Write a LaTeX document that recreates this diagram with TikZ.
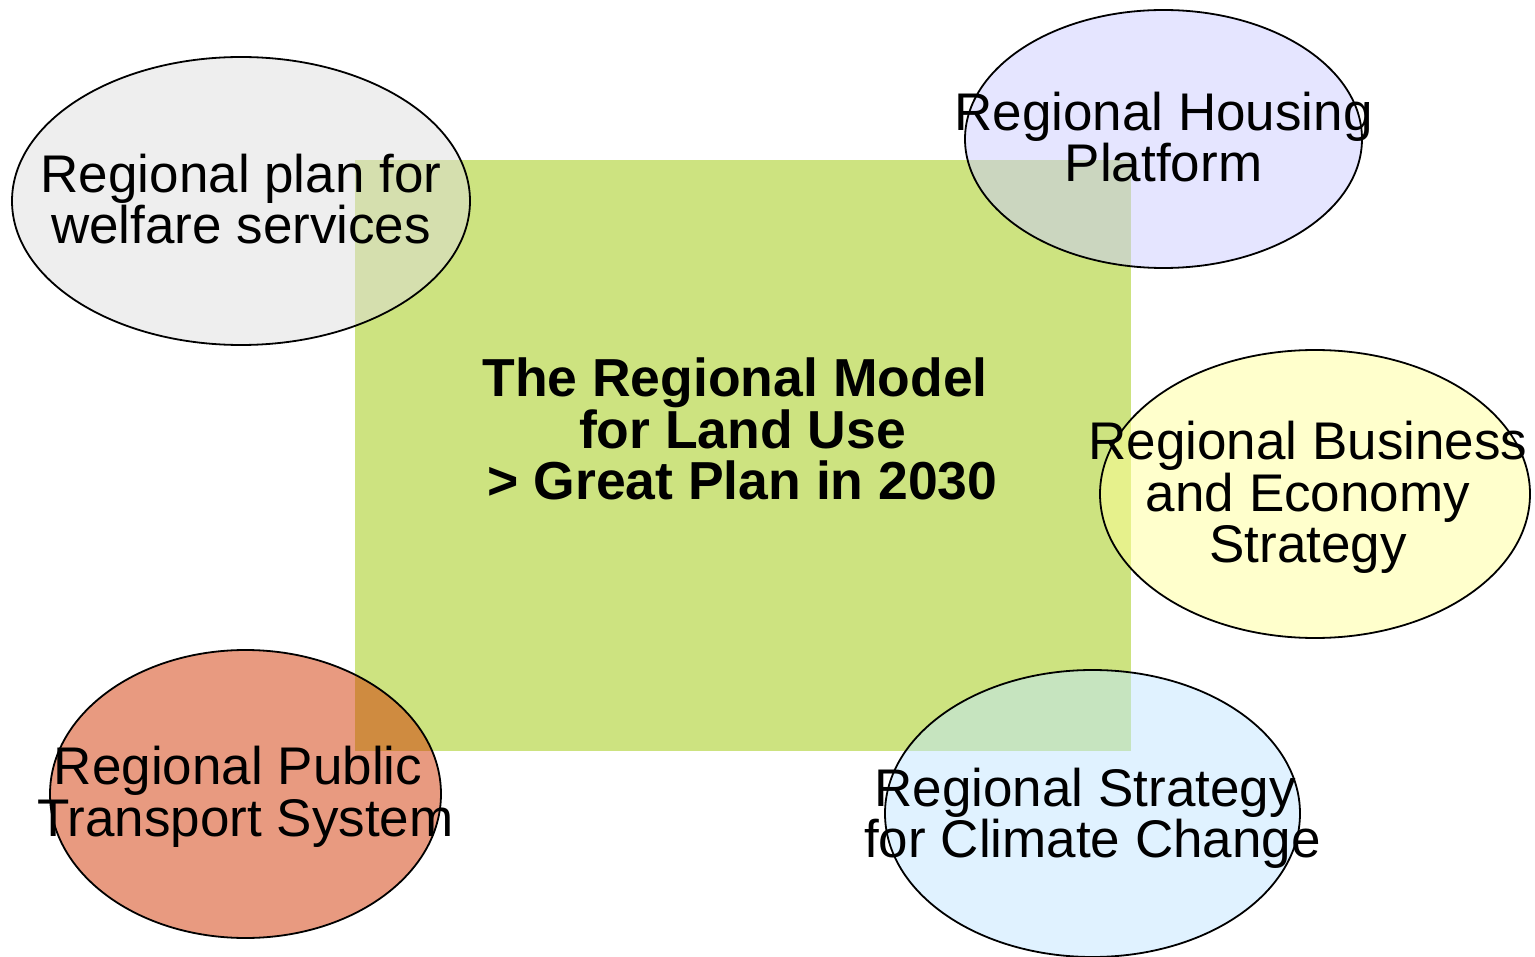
\documentclass[tikz,border=0pt]{standalone}
\usepackage{fontspec}
\setmainfont{Liberation Sans}
\usetikzlibrary{shapes.geometric}
\definecolor{rectc}{RGB}{205,227,128}
\definecolor{welfc}{RGB}{221,221,221}
\definecolor{housc}{RGB}{203,203,255}
\definecolor{busic}{RGB}{255,255,153}
\definecolor{climc}{RGB}{193,229,255}
\definecolor{tranc}{RGB}{209,53,1}
\newcommand{\trsp}{\hspace*{0.278em}}
\begin{document}
\begin{tikzpicture}[x=1pt,y=-1pt,
  bubble/.style={ellipse, draw=black, line width=1.8pt, fill opacity=0.5, inner sep=0pt},
  bubbletext/.style={align=center, inner sep=0pt, font=\fontsize{53}{51.5}\selectfont},
  planbox/.style={rectangle, fill=rectc, draw=none, inner sep=0pt},
  titletext/.style={align=center, inner sep=0pt, font=\bfseries\fontsize{53.5}{51.5}\selectfont}]
\useasboundingbox (0,0) rectangle (1535,957);
\node[planbox, minimum width=776pt, minimum height=591pt] (plan) at (743,455.5) {};
\node[titletext] (title) at (742.5,429) {The Regional Model\trsp\\for Land Use\\> Great Plan in 2030};
\node[bubble, fill=welfc, minimum width=458pt, minimum height=288pt] (welfare) at (241,201) {};
\node[bubble, fill=housc, minimum width=397pt, minimum height=258pt] (housing) at (1163.5,139) {};
\node[bubble, fill=busic, minimum width=430pt, minimum height=288pt] (business) at (1315,494) {};
\node[bubble, fill=climc, minimum width=415pt, minimum height=287pt] (climate) at (1092.5,813.5) {};
\node[bubble, fill=tranc, minimum width=391pt, minimum height=288pt] (transport) at (245.5,794) {};
\node[bubbletext] (welfaretext) at (241,199) {Regional plan for\\welfare services};
\node[bubbletext] (housingtext) at (1163.5,137) {Regional Housing\\Platform};
\node[bubbletext] (businesstext) at (1308,497.5) {Regional Business\\and Economy\\Strategy};
\node[bubbletext] (climatetext) at (1092.5,818.5) {Regional Strategy\trsp\\for Climate Change};
\node[bubbletext] (transporttext) at (245.5,797) {Regional Public\trsp\\Transport System};
\end{tikzpicture}
\end{document}
